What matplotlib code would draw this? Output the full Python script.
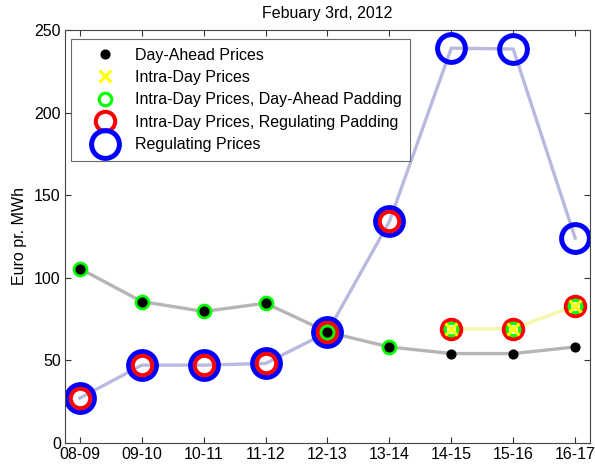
import matplotlib
matplotlib.use("Agg")
import matplotlib.pyplot as plt
import numpy as np

plt.rcParams['font.family'] = ['Liberation Sans', 'DejaVu Sans']

hours = ['08-09', '09-10', '10-11', '11-12', '12-13', '13-14', '14-15', '15-16', '16-17']

day_ahead = [105.5, 85.5, 79.5, 84.5, 67, 58, 54, 54, 58]
intra_day = [np.nan, np.nan, np.nan, np.nan, np.nan, np.nan, 69, 69, 83]
intra_da_pad = [105.5, 85.5, 79.5, 84.5, 67, 58, 69, 69, 83]
intra_reg_pad = [27, 47, 47, 48, 67, 134, 69, 69, 83]
regulating = [27, 47, 47, 48, 67, 134, 239, 238.5, 124]

x = np.arange(1, len(hours) + 1)
fs = 11.5

fig = plt.figure(figsize=(5.95, 4.68), dpi=100)
ax = fig.add_axes([65 / 595, 1 - 442.7 / 468, 525 / 595, 412.7 / 468])

# connecting lines, light and thick
ax.plot(x, day_ahead, color='#b5b5b5', lw=2.4, zorder=1)
ax.plot(x, regulating, color='#b9b9e0', lw=2.4, zorder=1)
ax.plot(x, intra_day, color='#f6f6a8', lw=2.4, zorder=1)

# markers, largest first so smaller ones sit on top
ax.plot(x, regulating, 'o', ms=20, mfc='none', mec='#0000ff', mew=3.6,
        label='Regulating Prices', zorder=2)
ax.plot(x, intra_reg_pad, 'o', ms=14, mfc='none', mec='#ff0000', mew=2.9,
        label='Intra-Day Prices, Regulating Padding', zorder=3)
ax.plot(x, intra_da_pad, 'o', ms=9, mfc='none', mec='#00ff00', mew=2.3,
        label='Intra-Day Prices, Day-Ahead Padding', zorder=4)
ax.plot(x, day_ahead, 'o', ms=6.3, color='black',
        label='Day-Ahead Prices', zorder=5)
ax.plot(x, intra_day, 'x', ms=9, color='#ffff00', mew=2.2,
        label='Intra-Day Prices', zorder=6)

ax.set_xlim(0.76, 9.24)
ax.set_ylim(0, 250)
ax.set_xticks(x)
ax.set_xticklabels(hours)
ax.set_yticks([0, 50, 100, 150, 200, 250])
ax.tick_params(direction='in', top=True, right=True, length=4, width=0.8,
               labelsize=fs, color='#333333', pad=3)
for s in ax.spines.values():
    s.set_color('#444444')
    s.set_linewidth(0.8)

ax.set_ylabel('Euro pr. MWh', fontsize=fs, labelpad=5)
ax.set_title('Febuary 3rd, 2012', fontsize=fs, pad=8.5)

handles, labels = ax.get_legend_handles_labels()
order = [3, 4, 2, 1, 0]
leg = ax.legend([handles[i] for i in order], [labels[i] for i in order],
                loc='upper left', bbox_to_anchor=(0.011, 0.978),
                fontsize=fs, frameon=True, fancybox=False, borderpad=0.54,
                labelspacing=0.46, handlelength=3.23, handletextpad=0.24,
                borderaxespad=0)
leg.get_frame().set_edgecolor('#444444')
leg.get_frame().set_linewidth(0.8)

fig.savefig('out.png', dpi=100)
